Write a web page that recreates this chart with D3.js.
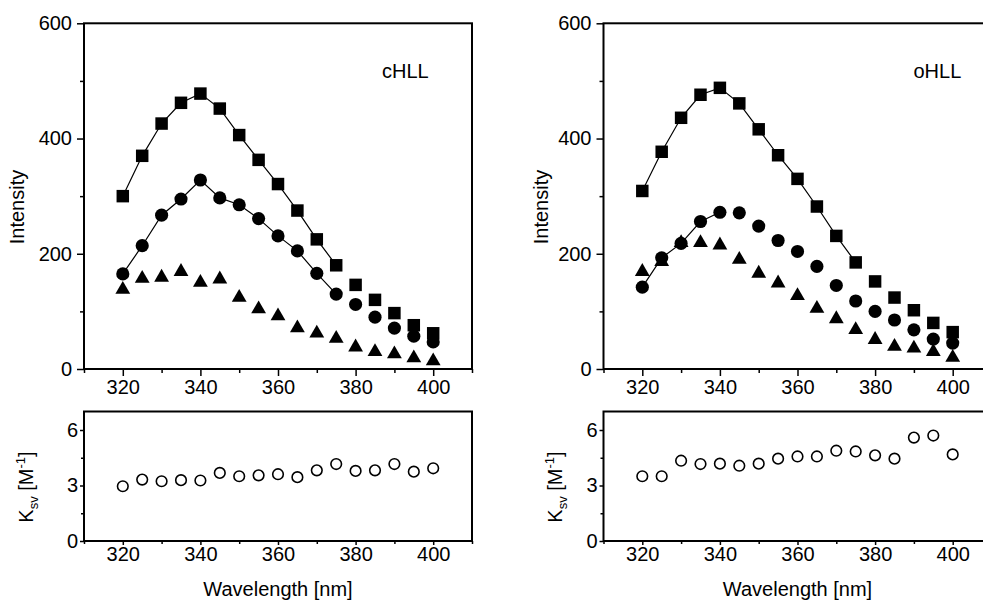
<!DOCTYPE html>
<html>
<head>
<meta charset="utf-8">
<script src="https://cdn.jsdelivr.net/npm/d3@7"></script>
<style>
  body { margin: 0; background: #fff; }
  svg text { font-family: "Liberation Sans", Arial, sans-serif; fill: #000; }
</style>
</head>
<body>
<svg width="983" height="601"></svg>
<script>
var svg = d3.select('svg');

// emission wavelengths (nm)
var wavelengths = [320, 325, 330, 335, 340, 345, 350, 355, 360, 365, 370, 375, 380, 385, 390, 395, 400];

// cHLL intensities
var cSquares = [300, 370, 426, 462, 478, 452, 406, 363, 321, 275, 225, 180, 146, 120, 97, 76, 62];
var cCircles = [165, 214, 267, 295, 328, 297, 285, 261, 231, 205, 166, 130, 112, 90, 71, 57, 47];
var cTriangles = [138, 157, 159, 169, 150, 156, 124, 104, 92, 71, 62, 53, 38, 30, 26, 19, 14];
var cKsv = [2.96, 3.32, 3.23, 3.29, 3.27, 3.68, 3.5, 3.55, 3.61, 3.45, 3.82, 4.16, 3.79, 3.82, 4.16, 3.75, 3.93];

// oHLL intensities
var oSquares = [309, 377, 436, 476, 488, 461, 416, 371, 330, 282, 231, 185, 152, 124, 102, 80, 64];
var oCircles = [142, 193, 218, 256, 272, 271, 248, 223, 204, 178, 145, 118, 100, 85, 68, 52, 45];
var oTriangles = [169, 186, 219, 219, 215, 190, 166, 149, 127, 105, 87, 68, 51, 39, 36, 30, 20];
var oKsv = [3.5, 3.5, 4.34, 4.16, 4.18, 4.07, 4.18, 4.45, 4.57, 4.57, 4.88, 4.84, 4.63, 4.45, 5.59, 5.7, 4.68];

// axis ticks
var xMajor = [320, 340, 360, 380, 400];
var xMinor = [310, 330, 350, 370, 390, 410];
var intMajor = [0, 200, 400, 600];
var intMinor = [100, 300, 500];
var ksvMajor = [0, 3, 6];
var ksvMinor = [1.5, 4.5];

var panels = [
  {name: 'cHLL', left: 84, squares: cSquares, circles: cCircles, triangles: cTriangles, ksv: cKsv,
   circleLineEnd: 375, nameDx: 298, intDx: -60, ksvDx: -51},
  {name: 'oHLL', left: 603.5, squares: oSquares, circles: oCircles, triangles: oTriangles, ksv: oKsv,
   circleLineEnd: 340, nameDx: 310, intDx: -56, ksvDx: -42}
];

var plotW = 388;
var topY = [23.3, 369];
var botY = [411.5, 541];

panels.forEach(drawPanel);

function styleAxis(g) {
  g.select('.domain').remove();
  g.selectAll('line').attr('stroke', '#000').attr('stroke-width', 1.5);
  g.selectAll('text').attr('font-size', 20).attr('font-family', '"Liberation Sans", Arial, sans-serif');
}

function drawPanel(p) {
  var x = d3.scaleLinear().domain([310, 410]).range([p.left, p.left + plotW]);
  var yI = d3.scaleLinear().domain([0, 600]).range([topY[1], topY[0]]);
  var yK = d3.scaleLinear().domain([0, 7]).range([botY[1], botY[0]]);

  // ---- intensity panel
  var top = svg.append('g');
  top.append('g').attr('transform', 'translate(0,' + topY[1] + ')')
    .call(d3.axisBottom(x).tickValues(xMajor).tickSize(7).tickPadding(4).tickFormat(d3.format('d')))
    .call(styleAxis);
  top.append('g').attr('transform', 'translate(0,' + topY[1] + ')')
    .call(d3.axisBottom(x).tickValues(xMinor).tickSize(4).tickFormat(''))
    .call(styleAxis);
  top.append('g').attr('transform', 'translate(' + p.left + ',0)')
    .call(d3.axisLeft(yI).tickValues(intMajor).tickSize(7).tickPadding(5).tickFormat(d3.format('d')))
    .call(styleAxis);
  top.append('g').attr('transform', 'translate(' + p.left + ',0)')
    .call(d3.axisLeft(yI).tickValues(intMinor).tickSize(4).tickFormat(''))
    .call(styleAxis);

  top.append('rect')
    .attr('x', p.left).attr('y', topY[0])
    .attr('width', plotW).attr('height', topY[1] - topY[0])
    .attr('fill', 'none').attr('stroke', '#000').attr('stroke-width', 2);

  var sq = wavelengths.map(function(w, i) { return {w: w, v: p.squares[i]}; });
  var ci = wavelengths.map(function(w, i) { return {w: w, v: p.circles[i]}; });
  var tr = wavelengths.map(function(w, i) { return {w: w, v: p.triangles[i]}; });

  var line = d3.line()
    .x(function(d) { return x(d.w); })
    .y(function(d) { return yI(d.v); });

  top.append('path')
    .attr('d', line(sq.filter(function(d) { return d.w <= 375; })))
    .attr('fill', 'none').attr('stroke', '#000').attr('stroke-width', 1.2);
  top.append('path')
    .attr('d', line(ci.filter(function(d) { return d.w <= p.circleLineEnd; })))
    .attr('fill', 'none').attr('stroke', '#000').attr('stroke-width', 1.2);

  function markers(data, type, size) {
    top.append('g').selectAll('path')
      .data(data)
      .enter()
      .append('path')
      .attr('transform', function(d) { return 'translate(' + x(d.w) + ',' + yI(d.v) + ')'; })
      .attr('d', d3.symbol().type(type).size(size))
      .attr('fill', '#000');
  }
  markers(sq, d3.symbolSquare, 156);
  markers(ci, d3.symbolCircle, 136);
  markers(tr, d3.symbolTriangle, 95);

  top.append('text')
    .attr('x', p.left + p.nameDx).attr('y', topY[0] + 55)
    .attr('font-size', 20)
    .text(p.name);

  top.append('text')
    .attr('transform', 'translate(' + (p.left + p.intDx) + ',207) rotate(-90)')
    .attr('text-anchor', 'middle')
    .attr('font-size', 20)
    .text('Intensity');

  // ---- Ksv panel
  var bot = svg.append('g');
  bot.append('g').attr('transform', 'translate(0,' + botY[1] + ')')
    .call(d3.axisBottom(x).tickValues(xMajor).tickSize(4).tickPadding(2).tickFormat(d3.format('d')))
    .call(styleAxis);
  bot.append('g').attr('transform', 'translate(0,' + botY[1] + ')')
    .call(d3.axisBottom(x).tickValues(xMinor).tickSize(3).tickFormat(''))
    .call(styleAxis);
  bot.append('g').attr('transform', 'translate(' + p.left + ',0)')
    .call(d3.axisLeft(yK).tickValues(ksvMajor).tickSize(4).tickPadding(2).tickFormat(d3.format('d')))
    .call(styleAxis);
  bot.append('g').attr('transform', 'translate(' + p.left + ',0)')
    .call(d3.axisLeft(yK).tickValues(ksvMinor).tickSize(3).tickFormat(''))
    .call(styleAxis);

  bot.append('rect')
    .attr('x', p.left).attr('y', botY[0])
    .attr('width', plotW).attr('height', botY[1] - botY[0])
    .attr('fill', 'none').attr('stroke', '#000').attr('stroke-width', 2);

  bot.append('g').selectAll('circle')
    .data(wavelengths.map(function(w, i) { return {w: w, v: p.ksv[i]}; }))
    .enter()
    .append('circle')
    .attr('cx', function(d) { return x(d.w); })
    .attr('cy', function(d) { return yK(d.v); })
    .attr('r', 5.3)
    .attr('fill', '#fff')
    .attr('stroke', '#000')
    .attr('stroke-width', 1.6);

  var kLabel = bot.append('text')
    .attr('transform', 'translate(' + (p.left + p.ksvDx) + ',487) rotate(-90)')
    .attr('text-anchor', 'middle')
    .attr('font-size', 20);
  kLabel.append('tspan').text('K');
  kLabel.append('tspan').attr('font-size', 13).attr('dy', 5).text('sv');
  kLabel.append('tspan').attr('dy', -5).text(' [M');
  kLabel.append('tspan').attr('font-size', 13).attr('dy', -8).text('-1');
  kLabel.append('tspan').attr('dy', 8).text(']');

  bot.append('text')
    .attr('x', p.left + plotW / 2).attr('y', 596)
    .attr('text-anchor', 'middle')
    .attr('font-size', 20)
    .text('Wavelength [nm]');
}
</script>
</body>
</html>
